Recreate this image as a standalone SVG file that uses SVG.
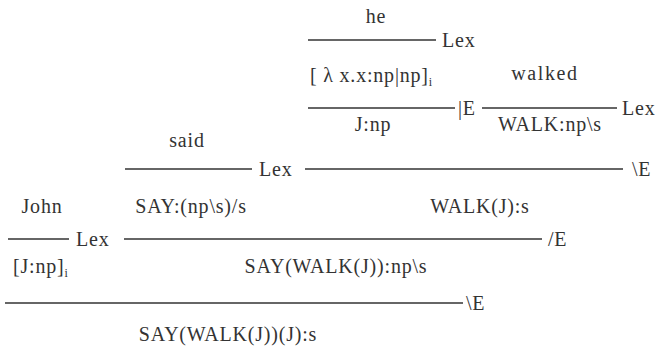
<svg xmlns="http://www.w3.org/2000/svg" width="658" height="351" viewBox="0 0 658 351">
  <style>
    text { font-family: 'Liberation Serif', 'DejaVu Serif', 'Times New Roman', serif; font-size: 20px; letter-spacing: 0.8px; fill: #333333; }
    .c { text-anchor: middle; }
    .sub { font-size: 12px; letter-spacing: 0; }
    line { stroke: #333333; stroke-width: 1.6; }
  </style>
  <rect width="658" height="351" fill="#ffffff"/>

  <g id="connectors">
    <line x1="308" y1="40" x2="436" y2="40"/>
    <line x1="308" y1="108" x2="455" y2="108"/>
    <line x1="482" y1="108" x2="617" y2="108"/>
    <line x1="125" y1="169" x2="252" y2="169"/>
    <line x1="305" y1="169" x2="623" y2="169"/>
    <line x1="8" y1="239" x2="69" y2="239"/>
    <line x1="124" y1="239" x2="542" y2="239"/>
    <line x1="5" y1="303" x2="463" y2="303"/>
  </g>

  <g id="rules">
    <text x="442" y="47">Lex</text>
    <text x="458" y="115">|E</text>
    <text x="622" y="115">Lex</text>
    <text x="259" y="176">Lex</text>
    <text x="632" y="176">\E</text>
    <text x="76" y="246">Lex</text>
    <text x="548" y="246">/E</text>
    <text x="466" y="310">\E</text>
  </g>

  <g id="node-he"><text class="c" x="376" y="23">he</text></g>
  <g id="node-lambda"><text x="310" y="82">[ λ x.x:np|np]<tspan class="sub" dy="4">i</tspan></text></g>
  <g id="node-walked"><text class="c" x="545" y="80" style="letter-spacing:1.6px">walked</text></g>
  <g id="node-jnp"><text class="c" x="373" y="131">J:np</text></g>
  <g id="node-walknps"><text class="c" x="550" y="131">WALK:np\s</text></g>
  <g id="node-said"><text class="c" x="187" y="147">said</text></g>
  <g id="node-john"><text class="c" x="42" y="213">John</text></g>
  <g id="node-say"><text class="c" x="191" y="213">SAY:(np\s)/s</text></g>
  <g id="node-walkj"><text class="c" x="480" y="213">WALK(J):s</text></g>
  <g id="node-jnpi"><text x="13" y="273">[J:np]<tspan class="sub" dy="4">i</tspan></text></g>
  <g id="node-saywalk"><text class="c" x="336" y="273">SAY(WALK(J)):np\s</text></g>
  <g id="node-result"><text class="c" x="228" y="341">SAY(WALK(J))(J):s</text></g>
</svg>
